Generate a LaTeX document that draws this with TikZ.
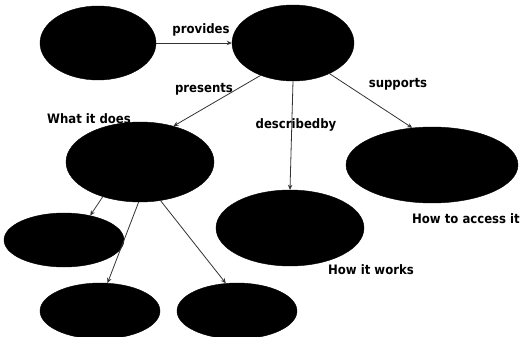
\documentclass[tikz,border=0pt]{standalone}
\usepackage{fontspec}
\setmainfont{DejaVu Sans Condensed}
\usetikzlibrary{shapes.geometric,arrows.meta}
\begin{document}
\begin{tikzpicture}[x=1pt,y=-1pt,
  blob/.style={ellipse,fill=black,draw=black,inner sep=0pt},
  link/.style={draw=black!80,line width=0.8pt,-{Stealth[length=5pt,width=4.5pt]}},
  lab/.style={font=\bfseries\fontsize{13}{15}\selectfont,inner sep=0pt}]
\useasboundingbox (0,0) rectangle (520,337);
\node[blob,minimum width=116pt,minimum height=74pt] (e1) at (98,43) {};
\node[blob,minimum width=122pt,minimum height=76pt] (e2) at (293,43) {};
\node[blob,minimum width=148pt,minimum height=80pt] (e3) at (140,162) {};
\node[blob,minimum width=172pt,minimum height=76pt] (e4) at (432,165) {};
\node[blob,minimum width=148pt,minimum height=76pt] (e5) at (290,228) {};
\node[blob,minimum width=120pt,minimum height=54pt] (e6) at (64,240) {};
\node[blob,minimum width=120pt,minimum height=56pt] (e7) at (100,311) {};
\node[blob,minimum width=120pt,minimum height=56pt] (e8) at (237,311) {};
\draw[link] (e1) -- (e2);
\draw[link] (e2.225) -- (e3.47);
\draw[link] (e2.270) -- (e5.90);
\draw[link] (e2.-40) -- (e4.118);
\draw[link] (e3.223) -- (e6.43);
\draw[link] (e3.268) -- (e7.75);
\draw[link] (e3.-62) -- (e8.112);
\node[lab] (l1) at (201,30) {provides};
\node[lab] (l2) at (204,89) {presents};
\node[lab] (l3) at (296,125) {describedby};
\node[lab] (l4) at (398,84) {supports};
\node[lab] (t3) at (89,119) {What it does};
\node[lab] (t4) at (466,219) {How to access it};
\node[lab] (t5) at (371,270) {How it works};
\end{tikzpicture}
\end{document}
